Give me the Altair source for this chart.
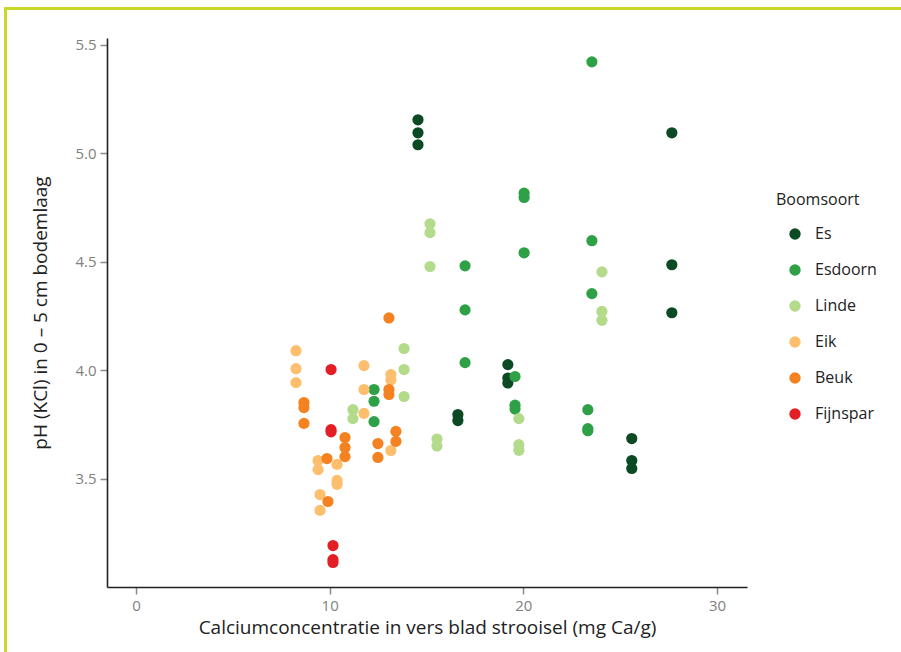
import altair as alt
import pandas as pd

categories = ["Es", "Esdoorn", "Linde", "Eik", "Beuk", "Fijnspar"]
colors = ["#0b4a22", "#2ea046", "#b3db8b", "#fdbe6e", "#f58220", "#e31e24"]

es_x = [14.56, 14.56, 14.56, 27.67, 27.67, 27.67, 19.2, 19.2, 19.2, 16.62, 16.62, 25.6, 25.6, 25.6]
es_y = [5.153, 5.093, 5.038, 5.093, 4.485, 4.264, 4.025, 3.963, 3.94, 3.795, 3.767, 3.684, 3.583, 3.546]

esdoorn_x = [23.54, 20.04, 20.04, 20.04, 16.99, 16.99, 16.99, 23.54, 23.54, 19.57, 19.57, 19.57,
             23.33, 23.33, 23.33, 12.29, 12.29, 12.29]
esdoorn_y = [5.42, 4.815, 4.795, 4.54, 4.48, 4.277, 4.034, 4.596, 4.352, 3.97, 3.838, 3.82,
             3.817, 3.73, 3.72, 3.91, 3.856, 3.762]

linde_x = [15.18, 15.18, 15.18, 24.06, 24.06, 24.06, 13.84, 13.84, 13.84, 11.2, 11.2,
           15.54, 15.54, 19.77, 19.77, 19.77]
linde_y = [4.674, 4.633, 4.477, 4.452, 4.27, 4.229, 4.099, 4.002, 3.878, 3.817, 3.776,
           3.682, 3.65, 3.776, 3.656, 3.63]

eik_x = [8.26, 8.26, 8.26, 11.77, 11.77, 11.77, 13.16, 13.16, 13.16, 9.4, 9.4, 9.5, 9.5,
         10.38, 10.38, 10.38]
eik_y = [4.089, 4.006, 3.942, 4.02, 3.91, 3.80, 3.979, 3.955, 3.629, 3.583, 3.541, 3.426, 3.353,
         3.565, 3.491, 3.473]

beuk_x = [13.06, 13.06, 13.06, 8.67, 8.67, 8.67, 10.79, 10.79, 10.79, 9.86, 9.91,
          12.49, 12.49, 13.42, 13.42]
beuk_y = [4.24, 3.91, 3.887, 3.85, 3.827, 3.754, 3.689, 3.643, 3.601, 3.592, 3.394,
          3.661, 3.597, 3.717, 3.671]

fijnspar_x = [10.07, 10.07, 10.07, 10.17, 10.17, 10.17]
fijnspar_y = [4.002, 3.725, 3.715, 3.191, 3.126, 3.113]

rows = []
for name, xs, ys in [("Es", es_x, es_y), ("Esdoorn", esdoorn_x, esdoorn_y),
                     ("Linde", linde_x, linde_y), ("Eik", eik_x, eik_y),
                     ("Beuk", beuk_x, beuk_y), ("Fijnspar", fijnspar_x, fijnspar_y)]:
    for a, b in zip(xs, ys):
        rows.append({"ca": a, "ph": b, "soort": name})
df = pd.DataFrame(rows)

FONT = "Open Sans"

points = alt.Chart(df).mark_circle(size=125, opacity=1).encode(
    x=alt.X("ca:Q",
            scale=alt.Scale(domain=[-1.5, 31.55], nice=False, zero=False),
            axis=alt.Axis(values=[0, 10, 20, 30], format="d",
                          title="Calciumconcentratie in vers blad strooisel (mg Ca/g)",
                          titlePadding=5)),
    y=alt.Y("ph:Q",
            scale=alt.Scale(domain=[3.0, 5.53], nice=False, zero=False),
            axis=alt.Axis(values=[3.5, 4.0, 4.5, 5.0, 5.5], format=".1f",
                          title="pH (KCl) in 0 – 5 cm bodemlaag",
                          titlePadding=24)),
    color=alt.Color("soort:N",
                    scale=alt.Scale(domain=categories, range=colors),
                    sort=categories,
                    legend=alt.Legend(title="Boomsoort", orient="none",
                                      legendX=669, legendY=154,
                                      symbolType="circle", symbolSize=130,
                                      symbolOffset=11, symbolStrokeWidth=0,
                                      labelOffset=12, rowPadding=20,
                                      titlePadding=18,
                                      titleFontSize=16, labelFontSize=16,
                                      titleFontWeight="normal",
                                      titleColor="#222222", labelColor="#222222",
                                      titleFont=FONT, labelFont=FONT)),
)

frame = alt.Chart(pd.DataFrame({"k": [0]}))
left_line = frame.mark_rule(color="#c9d829", strokeWidth=3).encode(
    x=alt.value(-101.5), y=alt.value(-29.5), y2=alt.value(620))
top_line = frame.mark_rule(color="#c9d829", strokeWidth=3).encode(
    x=alt.value(-103), x2=alt.value(800), y=alt.value(-29.5))

chart = alt.layer(left_line, top_line, points).properties(
    width=640, height=549,
    autosize=alt.AutoSizeParams(type="none"),
    padding={"left": 107, "top": 38, "right": 154, "bottom": 65},
).configure_view(stroke=None).configure_axis(
    domainColor="#222222", domainWidth=1.6,
    tickColor="#8a8a8a", tickWidth=1.5, tickSize=7,
    labelColor="#808080", labelFontSize=15, labelFont=FONT, labelPadding=4,
    titleColor="#222222", titleFontSize=19, titleFont=FONT, titleFontWeight="normal",
    grid=False,
)

chart.save("out.html", embed_options={"renderer": "svg", "actions": False})
